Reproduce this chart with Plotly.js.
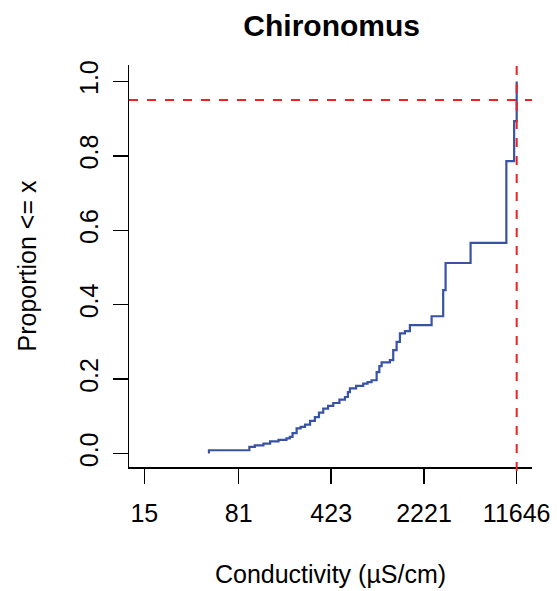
<!DOCTYPE html>
<html>
<head>
<meta charset="utf-8">
<script src="https://cdn.plot.ly/plotly-3.0.1.min.js"></script>
<style>html,body{margin:0;padding:0;background:#fff;}#chart{width:557px;height:591px;}</style>
</head>
<body>
<div id="chart"></div>
<script>
// ECDF of conductivity for Chironomus
const conductivity = [47.6, 47.6, 98, 108, 126, 142, 165, 190, 202, 212, 228, 245, 265, 290, 316, 340, 367, 400, 439, 490, 541, 570, 591, 660, 750, 810, 871, 953, 1000, 1042, 1208, 1282, 1362, 1445, 1580, 1727, 2545, 3131, 3268, 5108, 9683, 11127, 11646];
const proportion   = [0, 0.009, 0.018, 0.022, 0.027, 0.033, 0.037, 0.041, 0.045, 0.055, 0.068, 0.072, 0.078, 0.088, 0.098, 0.110, 0.121, 0.128, 0.136, 0.145, 0.152, 0.165, 0.175, 0.182, 0.188, 0.192, 0.197, 0.219, 0.235, 0.245, 0.251, 0.278, 0.300, 0.323, 0.329, 0.345, 0.369, 0.439, 0.512, 0.566, 0.786, 0.893, 1.0];
const tickValues = [15, 81, 423, 2221, 11646];
const tickLabels = ["15", "81", "423", "2221", "11646"];
const refProportion = 0.95;
const refConductivity = 11646;

const xRangeLog = [1.057, 4.185];
const yRange = [-0.036, 1.044];
const font = "Liberation Sans, Arial, sans-serif";

const trace = {
  x: conductivity, y: proportion, type: "scatter", mode: "lines",
  line: {shape: "hv", color: "#3852A4", width: 2.2},
  hoverinfo: "skip", showlegend: false
};

const vFrac = (Math.log10(refConductivity) - xRangeLog[0]) / (xRangeLog[1] - xRangeLog[0]);

const layout = {
  width: 557, height: 591,
  margin: {l: 129, r: 25, t: 65, b: 124},
  paper_bgcolor: "#fff", plot_bgcolor: "#fff",
  font: {family: font, size: 25, color: "#000"},
  title: {text: "<b>Chironomus</b>", font: {family: font, size: 30, color: "#000"}, x: 0.5955, xanchor: "center", y: 0.957, yanchor: "middle"},
  xaxis: {
    type: "log", range: xRangeLog, tickvals: tickValues, ticktext: tickLabels,
    showgrid: false, zeroline: false, showline: true, linecolor: "#000", linewidth: 1.5,
    ticks: "outside", ticklen: 15, tickwidth: 1.5, tickcolor: "#000",
    tickfont: {size: 25}, ticklabelstandoff: 8,
    title: {text: "Conductivity (µS/cm)", font: {size: 25}, standoff: 40}
  },
  yaxis: {
    range: yRange, tickvals: [0, 0.2, 0.4, 0.6, 0.8, 1.0], ticktext: ["0.0", "0.2", "0.4", "0.6", "0.8", "1.0"],
    tickangle: -90,
    showgrid: false, zeroline: false, showline: true, linecolor: "#000", linewidth: 1.5,
    ticks: "outside", ticklen: 15, tickwidth: 1.5, tickcolor: "#000",
    tickfont: {size: 25}, ticklabelstandoff: 5,
    title: {text: "Proportion <= x", font: {size: 25}, standoff: 31}
  },
  shapes: [
    {type: "line", xref: "paper", x0: 0, x1: 1, yref: "y", y0: refProportion, y1: refProportion,
     line: {color: "#EE2222", width: 2, dash: "9px,9px"}},
    {type: "line", xref: "paper", x0: vFrac, x1: vFrac, yref: "paper", y0: -0.01, y1: 1.01,
     line: {color: "#EE2222", width: 2, dash: "9px,9px"}}
  ]
};

Plotly.newPlot("chart", [trace], layout, {displayModeBar: false, staticPlot: true});
</script>
</body>
</html>
